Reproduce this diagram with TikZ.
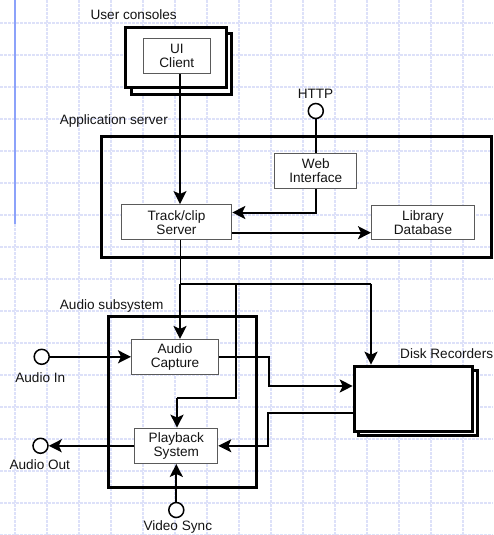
\documentclass[tikz,border=0pt]{standalone}
\usepackage{fontspec}
\setmainfont{Liberation Sans}
\usetikzlibrary{arrows.meta,calc}
\definecolor{gridcol}{RGB}{221,225,249}
\definecolor{rulercol}{RGB}{140,162,250}
\definecolor{boxedge}{RGB}{90,90,90}
\definecolor{ink}{RGB}{20,20,20}

\begin{document}
\begin{tikzpicture}[x=1pt,y=-1pt,
  font=\fontsize{13.6}{14}\selectfont,
  comp/.style={draw=boxedge,line width=1pt,fill=white,align=center,inner sep=0pt,text=ink},
  frame/.style={draw=black,line width=3pt,inner sep=0pt},
  conn/.style={draw=black,line width=2pt},
  thinconn/.style={draw=black,line width=1pt},
  arr/.style={conn,-{Stealth[length=13pt,width=13pt,inset=3pt]}},
  port/.style={circle,draw=black,line width=1.5pt,fill=white,minimum size=15pt,inner sep=0pt},
  lbl/.style={anchor=base,inner sep=0pt,text=ink},
  gridline/.style={draw=gridcol,line width=1.1pt,dash pattern=on 3pt off 1pt}]

\useasboundingbox (0,0) rectangle (493,535);
\fill[white] (0,0) rectangle (493,535);

% background grid
\foreach \gx in {15,47,...,463} \draw[gridline] (\gx,0) -- (\gx,535);
\foreach \gy in {23,55,...,535} \draw[gridline] (0,\gy) -- (493,\gy);
\draw[rulercol,line width=1.5pt] (15,0) -- (15,224);

% containers
\node[frame,fill=white,minimum width=100.7pt,minimum height=60.3pt] (consoles2) at (181.35,64.15) {};
\node[frame,fill=white,minimum width=101pt,minimum height=60pt] (consoles) at (176.3,57.5) {};
\node[frame,minimum width=390pt,minimum height=121pt] (appsrv) at (296.5,197) {};
\node[frame,minimum width=148.1pt,minimum height=170.7pt] (audiosub) at (182.75,401.65) {};
\node[frame,fill=white,minimum width=119.8pt,minimum height=65.5pt] (disk2) at (417.9,402.75) {};
\node[frame,fill=white,minimum width=118.6pt,minimum height=65.3pt] (disk) at (413.5,398.85) {};

% components
\node[comp,minimum width=67.3pt,minimum height=34.7pt] (ui) at (176.8,56.2) {UI\\Client};
\node[comp,minimum width=110.6pt,minimum height=35.3pt] (trk) at (176.5,222.2) {Track/clip\\Server};
\node[comp,minimum width=82pt,minimum height=35.3pt] (web) at (315.8,170.8) {Web\\Interface};
\node[comp,minimum width=103pt,minimum height=34pt] (lib) at (423,222.5) {Library\\Database};
\node[comp,minimum width=87pt,minimum height=34.7pt] (cap) at (175,356.8) {Audio\\Capture};
\node[comp,minimum width=83pt,minimum height=35.3pt] (play) at (176.3,445.8) {Playback\\System};

% external ports
\node[port] (http) at (315.8,111) {};
\node[port] (ain) at (41.7,356.8) {};
\node[port] (aout) at (40.5,445.8) {};
\node[port] (vsync) at (176.3,510) {};

% labels
\node[lbl] (lconsoles) at (133.7,20) {User consoles};
\node[lbl] (lappsrv) at (113.8,124.7) {Application server};
\node[lbl] (laudiosub) at (111.7,309) {Audio subsystem};
\node[lbl,anchor=base west] (ldisk) at (400,358.7) {Disk Recorders};
\node[lbl] (lhttp) at (315.5,98.5) {HTTP};
\node[lbl] (lain) at (40.3,382) {Audio In};
\node[lbl] (laout) at (39.8,469) {Audio Out};
\node[lbl] (lvsync) at (177.8,530.3) {Video Sync};

% junctions and bends
\coordinate (j1) at (180,283.5);
\coordinate (j2) at (236,283.5);
\coordinate (b1) at (371,283.5);
\coordinate (b2) at (177,398.3);
\coordinate (b3) at (269.3,386);
\coordinate (b4) at (268.3,413.3);

% connectors
\draw[arr] ([xshift=3.2pt]ui.south) -- ([xshift=3.2pt]ui.south |- trk.north);
\draw[conn] (http) -- (web);
\draw[arr] (web.south) |- ([yshift=9.7pt]trk.east);
\draw[arr] ([yshift=-10.5pt]trk.east) -- ([yshift=-10.5pt]trk.east -| lib.west);
\draw[thinconn] ([xshift=3.5pt]trk.south) -- (j1);
\draw[arr] (j1) -- (j1 |- cap.north);
\draw[conn] (j1) -- (b1);
\draw[arr] (b1) -- (b1 |- disk.north);
\draw[conn] (j2) |- (b2);
\draw[arr] (b2) -- (b2 |- play.north);
\draw[arr] (ain.east) -- (ain.east -| cap.west);
\draw[arr] (cap.east) -| (b3) -- (b3 -| disk.west);
\draw[arr] (b4 -| disk.west) -- (b4) |- (play.east);
\draw[arr] (play.west) -- (aout.east);
\draw[arr] (vsync) -- (play);
\end{tikzpicture}
\end{document}
